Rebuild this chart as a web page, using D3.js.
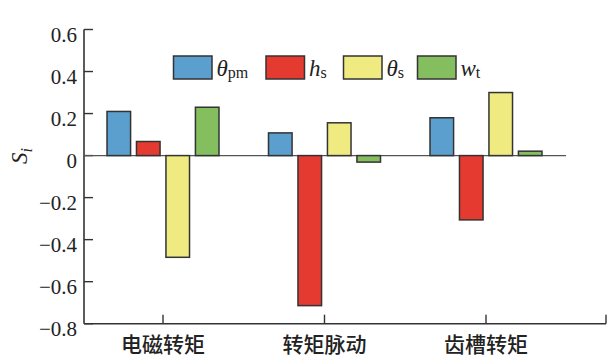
<!DOCTYPE html>
<html><head><meta charset="utf-8">
<script src="https://cdn.jsdelivr.net/npm/d3@7"></script>
<style>body{margin:0;background:#fff}</style>
</head><body>
<svg id="c" width="608" height="359"></svg>
<script>
const categories = ["电磁转矩", "转矩脉动", "齿槽转矩"];
const seriesNames = ["θpm", "hs", "θs", "wt"];
const thetaPm = [0.21, 0.108, 0.18];
const hS = [0.067, -0.714, -0.306];
const thetaS = [-0.484, 0.156, 0.30];
const wT = [0.23, -0.031, 0.021];
const yTicks = [0.6, 0.4, 0.2, 0, -0.2, -0.4, -0.6, -0.8];
const colors = ["#5b9fcf", "#e43a30", "#efeb80", "#84be5f"];
const legendMain = ["θ", "h", "θ", "w"];
const legendSub = ["pm", "s", "s", "t"];

const series = [thetaPm, hS, thetaS, wT];
const svg = d3.select("#c");
const serif = "'Liberation Serif','Times New Roman',serif";
const axisX0 = 84, axisX1 = 606;
const y = d3.scaleLinear().domain([-0.8, 0.6]).range([323.7, 29.5]);
const x = d3.scalePoint().domain(categories).range([163, 486]);
const xs = d3.scaleBand().domain(d3.range(4)).range([-56, 56]).paddingInner(0.2);

const ink = "#333";
// Y axis
svg.append("line").attr("x1", axisX0).attr("x2", axisX0).attr("y1", y(0.6)).attr("y2", y(-0.8))
  .attr("stroke", ink).attr("stroke-width", 1.6);
yTicks.forEach(t => {
  svg.append("line").attr("x1", axisX0).attr("x2", axisX0 + 9).attr("y1", y(t)).attr("y2", y(t))
    .attr("stroke", ink).attr("stroke-width", 1.4);
  svg.append("text").attr("x", 77).attr("y", y(t) + 12).attr("text-anchor", "end")
    .attr("font-family", serif).attr("font-size", 21).attr("fill", "#222")
    .text(t === 0 ? "0" : (t < 0 ? "\u2212" + Math.abs(t).toFixed(1) : t.toFixed(1)));
});
// X axis
svg.append("line").attr("x1", axisX0).attr("x2", axisX1).attr("y1", y(-0.8)).attr("y2", y(-0.8))
  .attr("stroke", ink).attr("stroke-width", 1.6);
categories.forEach(c => {
  svg.append("line").attr("x1", x(c)).attr("x2", x(c)).attr("y1", y(-0.8)).attr("y2", y(-0.8) - 9)
    .attr("stroke", ink).attr("stroke-width", 1.4);
  svg.append("text").attr("x", x(c)).attr("y", 352).attr("text-anchor", "middle")
    .attr("font-family", "Noto Sans CJK SC").attr("font-weight", 500).attr("font-size", 21).attr("fill", "#222")
    .text(c);
});
svg.append("line").attr("x1", axisX1).attr("x2", axisX1).attr("y1", y(-0.8)).attr("y2", y(-0.8) - 9)
  .attr("stroke", ink).attr("stroke-width", 1.4);

// zero line
svg.append("line").attr("x1", axisX0).attr("x2", 566).attr("y1", y(0)).attr("y2", y(0))
  .attr("stroke", "#555").attr("stroke-width", 1.2);

// bars
series.forEach((vals, si) => {
  svg.append("g").selectAll("rect").data(vals).join("rect")
    .attr("x", (d, i) => x(categories[i]) + xs(si))
    .attr("width", xs.bandwidth())
    .attr("y", d => y(Math.max(0, d)))
    .attr("height", d => Math.abs(y(d) - y(0)))
    .attr("fill", colors[si]).attr("stroke", ink).attr("stroke-width", 1.5);
});

// Y label
const yl = svg.append("text").attr("transform", "translate(27,156) rotate(-90)").attr("text-anchor", "middle")
  .attr("font-family", serif).attr("font-size", 23).attr("fill", "#222");
yl.append("tspan").attr("font-style", "italic").text("S");
yl.append("tspan").attr("font-style", "italic").attr("font-size", 16).attr("dy", 5).text("i");

// legend
const legX = [173.5, 266, 343.5, 417.5];
seriesNames.forEach((n, i) => {
  svg.append("rect").attr("x", legX[i]).attr("y", 56).attr("width", 38.5).attr("height", 23)
    .attr("fill", colors[i]).attr("stroke", ink).attr("stroke-width", 1.5);
  const t = svg.append("text").attr("x", legX[i] + 43).attr("y", 76)
    .attr("font-family", serif).attr("font-size", 23).attr("fill", "#222");
  t.append("tspan").attr("font-style", "italic").text(legendMain[i]);
  t.append("tspan").attr("font-size", 16).attr("dy", 2).text(legendSub[i]);
});
</script>
</body></html>
